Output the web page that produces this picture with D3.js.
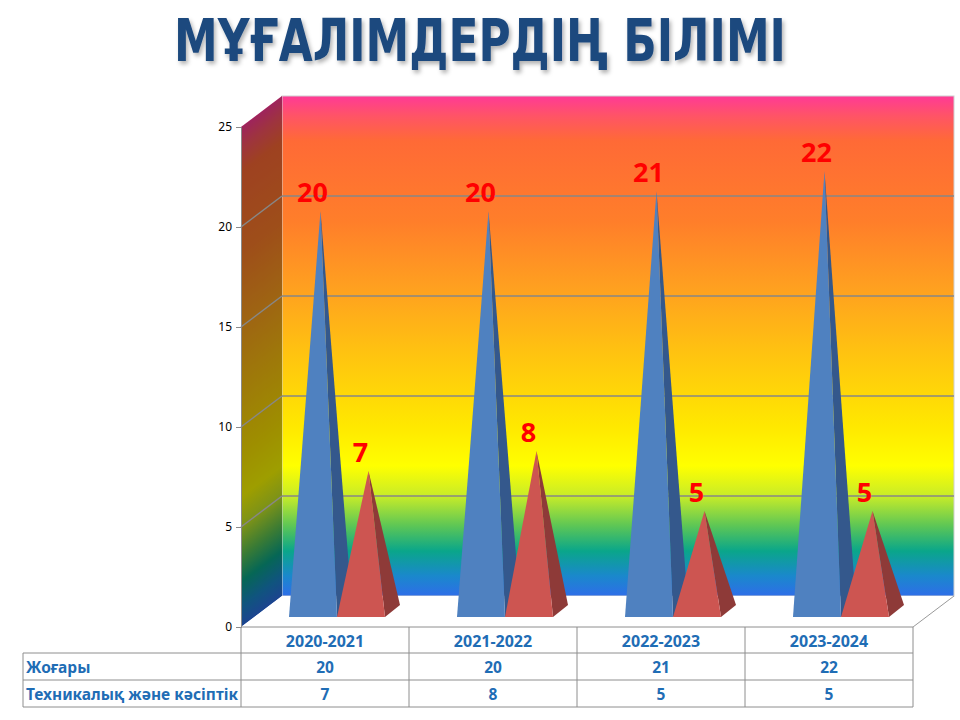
<!DOCTYPE html>
<html>
<head>
<meta charset="utf-8">
<script src="https://cdn.jsdelivr.net/npm/d3@7"></script>
<style>
  body { margin: 0; background: #fff; }
  text { font-family: "Noto Sans", "DejaVu Sans", sans-serif; }
</style>
</head>
<body>
<svg id="chart" width="960" height="720"></svg>
<script>
// data
const years = ["2020-2021", "2021-2022", "2022-2023", "2023-2024"];
const seriesNames = ["Жоғары", "Техникалық және кәсіптік"];
const higher = [20, 20, 21, 22];
const technical = [7, 8, 5, 5];
const yTicks = [0, 5, 10, 15, 20, 25];
const title = "МҰҒАЛІМДЕРДІҢ БІЛІМІ";

const svg = d3.select("#chart");
const defs = svg.append("defs");

// layout of the 3d box
const left = 241, right = 913;
const depthX = 41, depthY = -31;
const yScale = d3.scaleLinear().domain([0, 25]).range([627, 127]);
const xScale = d3.scaleBand().domain(years).range([left, right]);
const inner = d3.scaleBand().domain([0, 1]).range([48, 144]);

// rainbow wall gradient
const stops = [
  [0, "#ff3a96"], [0.04, "#ff5466"], [0.09, "#ff6a36"], [0.25, "#ff7e2a"],
  [0.38, "#ff9f20"], [0.5, "#ffbf12"], [0.66, "#ffe800"], [0.74, "#ffff00"],
  [0.8, "#c8ec28"], [0.86, "#5cc656"], [0.91, "#0aa68a"], [0.96, "#1a88cc"],
  [1, "#2e6ee8"]
];
function addGrad(id, y1, y2, transform) {
  const g = defs.append("linearGradient").attr("id", id)
    .attr("gradientUnits", "userSpaceOnUse")
    .attr("x1", 0).attr("x2", 0).attr("y1", y1).attr("y2", y2);
  if (transform) g.attr("gradientTransform", transform);
  stops.forEach(s => g.append("stop").attr("offset", s[0]).attr("stop-color", s[1]));
}
addGrad("backGrad", yScale(25) + depthY, yScale(0) + depthY);
const skew = Math.atan2(depthY, depthX) * 180 / Math.PI;
addGrad("sideGrad", yScale(25), yScale(0),
  `translate(${left},0) skewY(${skew}) translate(${-left},0)`);

const shadow = defs.append("filter").attr("id", "shadow")
  .attr("filterUnits", "userSpaceOnUse")
  .attr("x", 0).attr("y", 0).attr("width", 960).attr("height", 90);
shadow.append("feDropShadow").attr("dx", 2).attr("dy", 3)
  .attr("stdDeviation", 2).attr("flood-color", "#000").attr("flood-opacity", 0.3);

// title, squeezed horizontally to the reference width
const titleG = svg.append("g").attr("filter", "url(#shadow)");
const titleText = titleG.append("text")
  .attr("text-anchor", "middle")
  .style("font-family", "'DejaVu Sans', sans-serif")
  .attr("font-size", 59).attr("font-weight", 700)
  .attr("fill", "#1f4a7e")
  .text(title);
const tw = titleText.node().getComputedTextLength();
titleText.attr("transform", `translate(480,61) scale(${612 / tw},1)`);

// back wall
const bx0 = left + depthX, bx1 = right + depthX;
svg.append("rect")
  .attr("x", bx0).attr("y", yScale(25) + depthY)
  .attr("width", bx1 - bx0).attr("height", yScale(0) - yScale(25))
  .attr("fill", "url(#backGrad)")
  .attr("stroke", "#d0d0d0").attr("stroke-width", 1);

// side wall
const sidePts = [[left, yScale(25)], [bx0, yScale(25) + depthY],
  [bx0, yScale(0) + depthY], [left, yScale(0)]];
svg.append("polygon").attr("points", sidePts.join(" ")).attr("fill", "url(#sideGrad)");
svg.append("polygon").attr("points", sidePts.join(" "))
  .attr("fill", "#000").attr("fill-opacity", 0.38);

// floor
const floorPts = [[left, yScale(0)], [bx0, yScale(0) + depthY],
  [bx1, yScale(0) + depthY], [right, yScale(0)]];
svg.append("polygon").attr("points", floorPts.join(" "))
  .attr("fill", "#fff");
svg.append("line")
  .attr("x1", right).attr("y1", yScale(0))
  .attr("x2", bx1).attr("y2", yScale(0) + depthY)
  .attr("stroke", "#9a9a9a").attr("stroke-width", 1);

// gridlines
const grid = yTicks.filter(v => v > 0 && v < 25);
svg.selectAll("line.gback").data(grid).enter().append("line")
  .attr("class", "gback")
  .attr("x1", bx0).attr("x2", bx1)
  .attr("y1", d => yScale(d) + depthY).attr("y2", d => yScale(d) + depthY)
  .attr("stroke", "#878787").attr("stroke-width", 1.5);
svg.selectAll("line.gside").data(grid).enter().append("line")
  .attr("class", "gside")
  .attr("x1", left).attr("x2", bx0)
  .attr("y1", d => yScale(d)).attr("y2", d => yScale(d) + depthY)
  .attr("stroke", "#878787").attr("stroke-width", 1.5);

// y axis
const yAxis = svg.append("g")
  .attr("transform", `translate(${left},0)`)
  .call(d3.axisLeft(yScale).tickValues(yTicks).tickSize(5).tickPadding(4));
yAxis.select(".domain").attr("stroke", "#8a8a8a");
yAxis.selectAll(".tick line").attr("stroke", "#8a8a8a");
yAxis.selectAll(".tick text")
  .attr("font-size", 12).attr("fill", "#000");

// pyramids
const baseY = 617, baseW = 48, pdx = 15, pdy = -12;
const series = [
  { values: higher, front: "#4f81c0", side: "#34588c" },
  { values: technical, front: "#cd5551", side: "#8e3a38" }
];
series.forEach((s, si) => {
  const g = svg.append("g");
  years.forEach((yr, i) => {
    const x0 = xScale(yr) + inner(si);
    const ax = x0 + baseW / 2 + pdx / 2;
    const ay = yScale(s.values[i]) - (yScale(0) - baseY) + pdy / 2;
    g.append("polygon")
      .attr("points", [[x0 + baseW, baseY], [x0 + baseW + pdx, baseY + pdy], [ax, ay]].join(" "))
      .attr("fill", s.side);
    g.append("polygon")
      .attr("points", [[x0, baseY], [x0 + baseW, baseY], [ax, ay]].join(" "))
      .attr("fill", s.front);
    g.append("text")
      .attr("x", ax - 8).attr("y", ay - 9)
      .attr("text-anchor", "middle")
      .attr("font-size", 27).attr("font-weight", 700)
      .attr("fill", "#ff0000")
      .text(s.values[i]);
  });
});

// data table
const tableLeft = 23;
const rowTop = [yScale(0), 653, 680, 707];
const tcol = "#1f6db5";
const border = "#8e8e8e";
svg.append("line").attr("x1", left).attr("x2", right)
  .attr("y1", rowTop[0]).attr("y2", rowTop[0]).attr("stroke", border);
rowTop.slice(1).forEach(y => {
  svg.append("line").attr("x1", tableLeft).attr("x2", right)
    .attr("y1", y).attr("y2", y).attr("stroke", border);
});
svg.append("line").attr("x1", tableLeft).attr("x2", tableLeft)
  .attr("y1", rowTop[1]).attr("y2", rowTop[3]).attr("stroke", border);
years.concat([null]).forEach((yr, i) => {
  const x = yr ? xScale(yr) : right;
  svg.append("line").attr("x1", x).attr("x2", x)
    .attr("y1", rowTop[0]).attr("y2", rowTop[3]).attr("stroke", border);
});
svg.selectAll("text.cat").data(years).enter().append("text")
  .attr("class", "cat")
  .attr("x", d => xScale(d) + xScale.bandwidth() / 2)
  .attr("y", rowTop[0] + 20)
  .attr("text-anchor", "middle")
  .attr("font-size", 16).attr("font-weight", 700).attr("fill", tcol)
  .text(d => d);
[higher, technical].forEach((vals, r) => {
  svg.append("text")
    .attr("x", tableLeft + 3).attr("y", rowTop[r + 1] + 20)
    .attr("font-size", 15.5).attr("font-weight", 700).attr("fill", tcol)
    .text(seriesNames[r]);
  vals.forEach((v, i) => {
    svg.append("text")
      .attr("x", xScale(years[i]) + xScale.bandwidth() / 2)
      .attr("y", rowTop[r + 1] + 20)
      .attr("text-anchor", "middle")
      .attr("font-size", 15.5).attr("font-weight", 700).attr("fill", tcol)
      .text(v);
  });
});
</script>
</body>
</html>
